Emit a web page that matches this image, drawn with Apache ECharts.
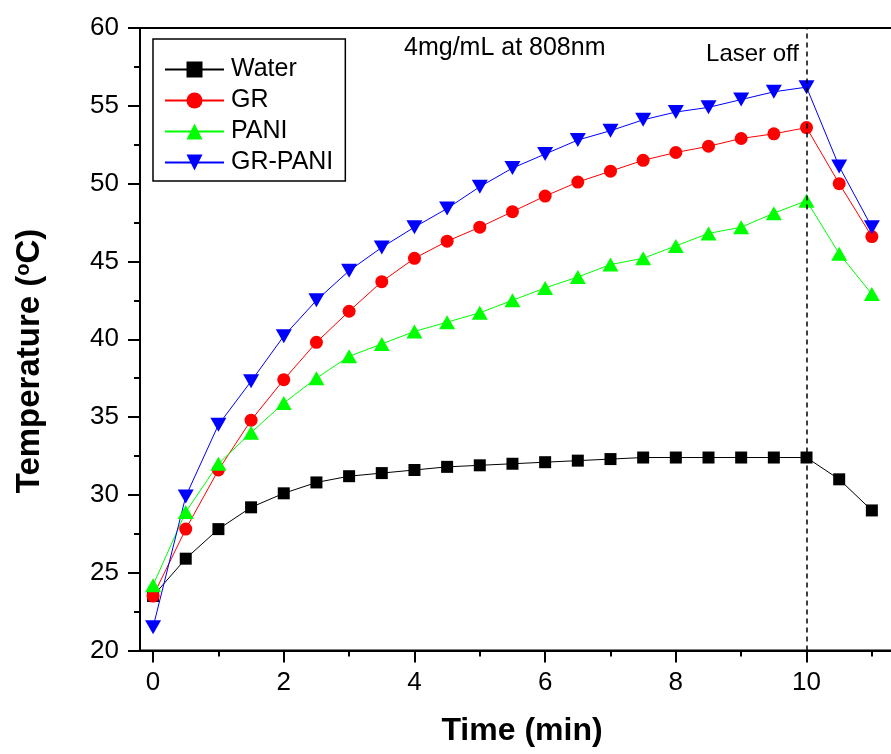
<!DOCTYPE html>
<html>
<head>
<meta charset="utf-8">
<script src="https://cdn.jsdelivr.net/npm/echarts@6/dist/echarts.min.js"></script>
<style>
html,body{margin:0;padding:0;background:#fff;}
#chart{width:891px;height:754px;}
</style>
</head>
<body>
<div id="chart"></div>
<script>
// ---- data ----
var times = [0,0.5,1,1.5,2,2.5,3,3.5,4,4.5,5,5.5,6,6.5,7,7.5,8,8.5,9,9.5,10,10.5,11];
var water  = [23.5,25.9,27.8,29.2,30.1,30.8,31.2,31.4,31.6,31.8,31.9,32.0,32.1,32.2,32.3,32.4,32.4,32.4,32.4,32.4,32.4,31.0,29.0];
var gr     = [23.5,27.8,31.6,34.8,37.4,39.8,41.8,43.7,45.2,46.3,47.2,48.2,49.2,50.1,50.8,51.5,52.0,52.4,52.9,53.2,53.6,50.0,46.6];
var pani   = [24.2,28.9,32.0,34.0,35.9,37.5,38.9,39.7,40.5,41.1,41.7,42.5,43.3,44.0,44.8,45.2,46.0,46.8,47.2,48.1,48.9,45.5,42.9];
var grpani = [21.5,29.9,34.5,37.3,40.2,42.5,44.4,45.9,47.2,48.4,49.8,51.0,51.9,52.8,53.4,54.1,54.6,54.9,55.4,55.9,56.2,51.1,47.2];
var seriesNames = ['Water','GR','PANI','GR-PANI'];
var xMajorTicks = [0,2,4,6,8,10];
var xMinorTicks = [1,3,5,7,9,11];
var laserOffTime = 10;

function pairs(vals){ return times.map(function(t,i){ return [t, vals[i]]; }); }

var chart = echarts.init(document.getElementById('chart'), null, {renderer:'canvas'});
var font = 'Liberation Sans, Arial, Helvetica, sans-serif';

function mkSeries(name, vals, color, symbol, size, rotate){
  return {
    name: name, type: 'line', data: pairs(vals),
    xAxisIndex: 0, yAxisIndex: 0,
    symbol: symbol, symbolSize: size, symbolRotate: rotate || 0,
    showAllSymbol: true,
    lineStyle: {color: color, width: 1},
    itemStyle: {color: color},
    animation: false
  };
}

var s = [
  mkSeries(seriesNames[0], water, '#000000', 'rect', 12),
  mkSeries(seriesNames[1], gr, '#ff0000', 'circle', 13),
  mkSeries(seriesNames[2], pani, '#00ff00', 'triangle', [16,14]),
  mkSeries(seriesNames[3], grpani, '#0000ff', 'triangle', [16,14], 180)
];
s[0].markLine = {
  silent: true, symbol: ['none','none'], label: {show: false},
  lineStyle: {color: '#000', type: [5,4], width: 1.5},
  data: [{xAxis: laserOffTime}], animation: false
};

var option = {
  backgroundColor: '#fff',
  animation: false,
  textStyle: {fontFamily: font},
  grid: {left: 140, top: 28, width: 758, bottom: 103.5, show: true, borderColor: '#000', borderWidth: 2,
         containLabel: false, outerBoundsMode: 'none'},
  legend: {
    orient: 'vertical', left: 153, top: 39,
    padding: [18, 12, 6, 11],
    itemWidth: 59, itemHeight: 20, itemGap: 6,
    borderColor: '#000', borderWidth: 1.5,
    backgroundColor: '#fff',
    textStyle: {fontSize: 25, color: '#000', fontFamily: font, lineHeight: 25, padding: [0,0,0,2]},
    data: seriesNames
  },
  xAxis: [{
    type: 'value', min: -0.2, max: 11.4, position: 'bottom',
    axisLine: {show: true, onZero: false, lineStyle: {color: '#000', width: 2}},
    axisTick: {show: true, customValues: xMajorTicks, length: 12, lineStyle: {color: '#000', width: 2}},
    axisLabel: {show: true, customValues: xMajorTicks, fontSize: 26, color: '#000', margin: 19, fontFamily: font},
    splitLine: {show: false}
  },{
    type: 'value', min: -0.2, max: 11.4, position: 'bottom', gridIndex: 0,
    axisLine: {show: false, onZero: false},
    axisTick: {show: true, customValues: xMinorTicks, length: 6, lineStyle: {color: '#000', width: 2}},
    axisLabel: {show: false},
    splitLine: {show: false}
  }],
  yAxis: {
    type: 'value', min: 20, max: 60, interval: 5,
    axisLine: {show: true, onZero: false, lineStyle: {color: '#000', width: 2}},
    axisTick: {show: true, length: 12, lineStyle: {color: '#000', width: 2}},
    minorTick: {show: true, splitNumber: 2, length: 6, lineStyle: {color: '#000', width: 2}},
    axisLabel: {fontSize: 26, color: '#000', margin: 21, fontFamily: font},
    splitLine: {show: false}
  },
  graphic: [
    {type: 'text', x: 522, y: 731, style: {text: 'Time (min)', font: 'bold 32px ' + font, fill: '#000', align: 'center', verticalAlign: 'middle'}},
    {type: 'text', x: 30, y: 361, rotation: Math.PI/2,
     style: {text: 'Temperature ({sup|o}C)', font: 'bold 33px ' + font, fill: '#000', align: 'center', verticalAlign: 'middle',
       rich: {sup: {fontSize: 20, fontWeight: 'bold', fontFamily: font, verticalAlign: 'top', padding: [0,0,14,0], fill: '#000'}}}},
    {type: 'text', x: 404, y: 48, style: {text: '4mg/mL at 808nm', font: '25px ' + font, fill: '#000', align: 'left', verticalAlign: 'middle'}},
    {type: 'text', x: 799, y: 54, style: {text: 'Laser off', font: '24px ' + font, fill: '#000', align: 'right', verticalAlign: 'middle'}}
  ],
  series: s
};
chart.setOption(option);
</script>
</body>
</html>
